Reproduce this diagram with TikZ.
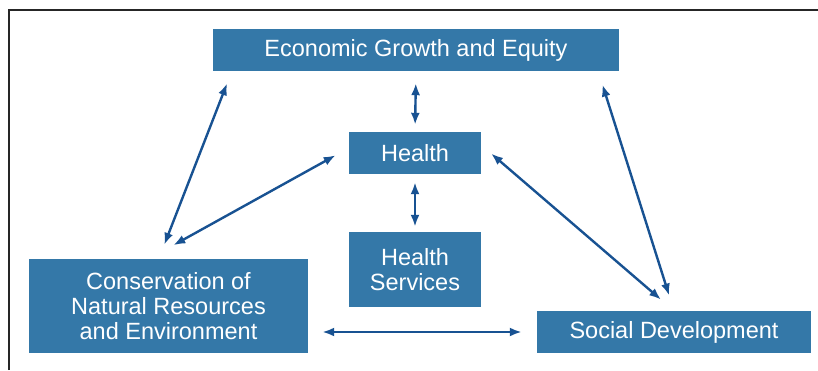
\documentclass[tikz,border=0pt]{standalone}
\usepackage{fontspec}
\setmainfont{Liberation Sans}
\usetikzlibrary{arrows.meta}
\definecolor{boxblue}{RGB}{52,120,168}
\definecolor{arrowblue}{RGB}{24,82,146}

\begin{document}
\begin{tikzpicture}[x=1pt,y=-1pt,
    topic/.style={draw=none,fill=boxblue,text=white,inner sep=0pt,align=center,
      font=\fontsize{23.5}{25}\selectfont},
    link/.style={draw=arrowblue,line width=2.4pt,
      {Latex[length=12pt,width=9pt]}-{Latex[length=12pt,width=9pt]}}]
    \useasboundingbox (0,0) rectangle (818,370);
    \draw [line width=1.5pt,black!85] (9,370) -- (9,10) -- (818,10);

    \node [topic,minimum width=406pt,minimum height=42pt] (econ) at (416,50) {Economic Growth and Equity};
    \node [topic,minimum width=132pt,minimum height=42pt] (health) at (415,153) {Health};
    \node [topic,minimum width=132pt,minimum height=75pt] (services) at (415,269.5) {Health\\Services};
    \node [topic,minimum width=279pt,minimum height=94pt] (conserv) at (168.5,306) {Conservation of\\Natural Resources\\and Environment};
    \node [topic,minimum width=274pt,minimum height=42pt] (social) at (674,332) {Social Development};

    \draw [link,shorten <=12pt,shorten >=7pt] (econ.south) -- (health.north);
    \draw [link,shorten <=8pt,shorten >=5pt] (health.south) -- (services.north);
    \draw [link,shorten <=13pt,shorten >=15pt] ([xshift=19pt]econ.south west) -- ([xshift=130pt]conserv.north west);
    \draw [link,shorten <=15pt,shorten >=28pt] ([yshift=5pt]health.west) -- ([xshift=120pt]conserv.north west);
    \draw [link,shorten <=14pt,shorten >=16pt] ([xshift=-21pt]econ.south east) -- (social.north);
    \draw [link,shorten <=13pt,shorten >=17pt] ([yshift=8pt]health.east) -- (social.north);
    \draw [link,shorten <=14pt,shorten >=15pt] (conserv.east |- social.west) -- (social.west);
  \end{tikzpicture}
\end{document}
